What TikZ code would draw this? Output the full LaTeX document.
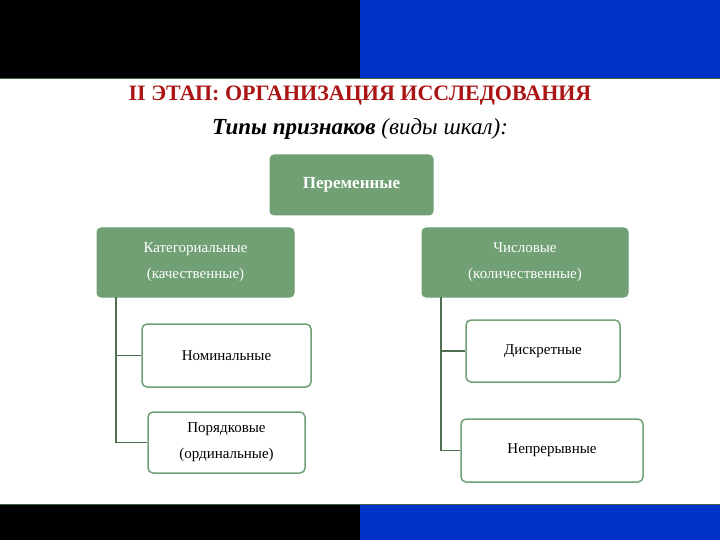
\documentclass[tikz,border=0pt]{standalone}
\usepackage{fontspec}
\setmainfont{Liberation Serif}
\definecolor{gr}{RGB}{112,160,115}
\definecolor{dred}{RGB}{170,20,20}
\definecolor{bl}{RGB}{0,50,200}
\begin{document}
\begin{tikzpicture}[x=1pt,y=-1pt,
 gbox/.style={draw=gr,fill=gr,rounded corners=4pt,line width=1pt,text=white,align=center,font=\fontsize{15}{26}\selectfont},
 wbox/.style={draw=gr,fill=white,rounded corners=5pt,line width=1.5pt,align=center,font=\fontsize{15}{26}\selectfont},
 conn/.style={draw=gr!70!black,line width=1.5pt}]
\useasboundingbox (0,0) rectangle (720,540);
\fill[black] (0,0) rectangle (360,78);
\fill[bl] (360,0) rectangle (720,78);
\fill[black] (0,505) rectangle (360,540);
\fill[bl] (360,505) rectangle (720,540);
\draw[gr!60!black,line width=1pt] (0,79) -- (720,79);
\draw[gr!60!black,line width=1pt] (0,504) -- (720,504);
\node[text=dred,font=\fontsize{22}{22}\selectfont\bfseries] (t) at (360,96) {II ЭТАП: ОРГАНИЗАЦИЯ ИССЛЕДОВАНИЯ};
\node[font=\fontsize{23}{23}\selectfont\itshape] (s) at (360,129) {\textbf{Типы признаков} (виды шкал):};
\node[gbox,minimum width=163,minimum height=60,font=\fontsize{17}{20}\selectfont\bfseries] (p) at (351.5,185) {Переменные};
\node[gbox,minimum width=197,minimum height=69] (k) at (195.5,262.5) {Категориальные\\(качественные)};
\node[gbox,minimum width=206,minimum height=69] (c) at (525,262.5) {Числовые\\(количественные)};
\node[wbox,minimum width=169,minimum height=63,text depth=0pt] (n) at (226.5,355.5) {Номинальные};
\node[wbox,minimum width=157,minimum height=61] (o) at (226.5,442.5) {Порядковые\\(ординальные)};
\node[wbox,minimum width=154,minimum height=62] (d) at (543,351) {Дискретные};
\node[wbox,minimum width=182,minimum height=63] (r) at (552,450.5) {Непрерывные};
\coordinate (kl) at (116,297);
\coordinate (cl) at (441,297);
\draw[conn] (kl) |- (o.west);
\draw[conn] (kl|-n.west) -- (n.west);
\draw[conn] (cl) |- (r.west);
\draw[conn] (cl|-d.west) -- (d.west);
\end{tikzpicture}
\end{document}
